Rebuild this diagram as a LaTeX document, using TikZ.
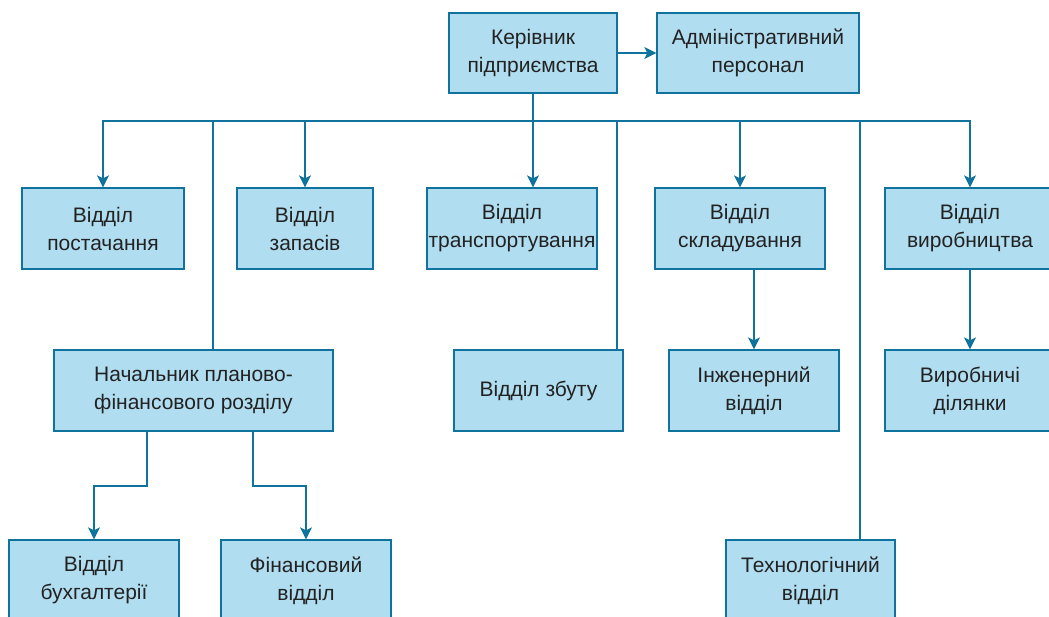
\documentclass[tikz,border=0pt]{standalone}
\usepackage{fontspec}
\setmainfont{Liberation Sans}
\usetikzlibrary{arrows.meta,calc}
\definecolor{boxfill}{HTML}{B1DDF0}
\definecolor{boxline}{HTML}{10739E}
\definecolor{txt}{HTML}{222222}
\tikzset{
  box/.style={draw=boxline, fill=boxfill, line width=1.3pt, align=center, inner sep=0pt,
    text=txt, font=\fontsize{21}{28}\selectfont, minimum height=80pt},
  link/.style={draw=boxline, line width=1.4pt},
  arr/.style={link, -{Stealth[width=12pt,length=12pt,inset=3pt]}}
}
\begin{document}
\begin{tikzpicture}[x=1pt,y=-1pt]
\useasboundingbox (0,0) rectangle (1049,617);
% top row
\node[box, minimum width=168pt] (ker) at (533,53) {Керівник\\підприємства};
\node[box, minimum width=202pt] (adm) at (758,53) {Адміністративний\\персонал};
% second row
\node[box, minimum width=162pt, minimum height=81pt] (post) at (103,228.5) {Відділ\\постачання};
\node[box, minimum width=136pt, minimum height=81pt] (zap) at (305,228.5) {Відділ\\запасів};
\node[box, minimum width=170pt, minimum height=81pt] (trans) at (512,228.5) {Відділ\\транспортування};
\node[box, minimum width=170pt, minimum height=81pt] (sklad) at (740,228.5) {Відділ\\складування};
\node[box, minimum width=170pt, minimum height=81pt] (vyr) at (970,228.5) {Відділ\\виробництва};
% third row
\node[box, minimum width=279pt, minimum height=81pt] (nach) at (193.5,390.5) {Начальник планово-\\фінансового розділу};
\node[box, minimum width=169pt, minimum height=81pt] (zbut) at (538.5,390.5) {Відділ збуту};
\node[box, minimum width=170pt, minimum height=81pt] (inzh) at (754,390.5) {Інженерний\\відділ};
\node[box, minimum width=170pt, minimum height=81pt] (dil) at (970,390.5) {Виробничі\\ділянки};
% bottom row
\node[box, minimum width=170pt, minimum height=81pt] (buh) at (94,580.5) {Відділ\\бухгалтерії};
\node[box, minimum width=170pt, minimum height=81pt] (fin) at (306,580.5) {Фінансовий\\відділ};
\node[box, minimum width=169pt, minimum height=81pt] (tech) at (810.5,580.5) {Технологічний\\відділ};
% helper coordinates
\coordinate (bus) at (533,121);
\coordinate (nachin) at (213,350);
\coordinate (zbutin) at (617,350);
\coordinate (techin) at (860,540);
\coordinate (nachL) at (147,431);
\coordinate (nachR) at (253,431);
% connectors
\draw[arr] (ker.east) -- (adm.west);
\draw[arr] (ker.south) -- (ker.south |- trans.north);
\draw[arr] (bus) -| (post.north);
\draw[arr] (bus) -| (zap.north);
\draw[arr] (bus) -| (sklad.north);
\draw[arr] (bus) -| (vyr.north);
\draw[link] (bus) -| (nachin);
\draw[link] (bus) -| (zbutin);
\draw[link] (bus) -| (techin);
\draw[arr] (nachL) -- ++(0,55) -| (buh.north);
\draw[arr] (nachR) -- ++(0,55) -| (fin.north);
\draw[arr] (sklad.south -| inzh.north) -- (inzh.north);
\draw[arr] (vyr.south) -- (dil.north);
\end{tikzpicture}
\end{document}
